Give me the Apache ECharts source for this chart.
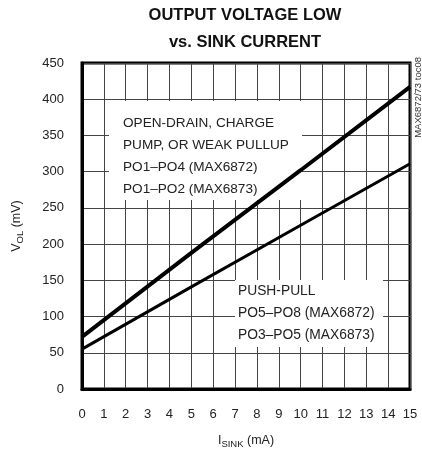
<!DOCTYPE html>
<html>
<head>
<meta charset="utf-8">
<script src="https://cdn.jsdelivr.net/npm/echarts@6/dist/echarts.min.js"></script>
<style>
  html, body { margin: 0; padding: 0; background: #fff; }
  #chart { width: 422px; height: 454px; }
</style>
</head>
<body>
<div id="chart"></div>
<script>
// sink current (mA) vs output voltage low (mV)
const sinkCurrent = [0, 5, 10, 15];
const openDrainVol = [72, 188, 302, 417];
const pushPullVol = [55, 141, 226, 311];

const openDrainNote = ['OPEN-DRAIN, CHARGE', 'PUMP, OR WEAK PULLUP', 'PO1\u2013PO4 (MAX6872)', 'PO1\u2013PO2 (MAX6873)'];
const pushPullNote = ['PUSH-PULL', 'PO5\u2013PO8 (MAX6872)', 'PO3\u2013PO5 (MAX6873)'];

const font = 'Liberation Sans, Arial, sans-serif';
const chart = echarts.init(document.getElementById('chart'));

chart.setOption({
  backgroundColor: '#fff',
  animation: false,
  title: {
    text: 'OUTPUT VOLTAGE LOW\nvs. SINK CURRENT',
    left: 240,
    top: -3,
    textAlign: 'center',
    textStyle: {
      fontFamily: font,
      fontWeight: 'bold',
      fontSize: 16.5,
      lineHeight: 27,
      color: '#111'
    }
  },
  grid: {
    left: 82, right: 12, top: 63, bottom: 63,
    show: true, borderColor: '#000', borderWidth: 3, backgroundColor: 'transparent'
  },
  xAxis: {
    type: 'value',
    min: 0,
    max: 15,
    interval: 1,
    name: 'I{sub|SINK} (mA)',
    nameLocation: 'middle',
    nameGap: 44,
    nameTextStyle: {
      fontFamily: font,
      fontSize: 12.5,
      color: '#222',
      rich: { sub: { fontFamily: font, fontSize: 9.5, verticalAlign: 'bottom', padding: [6, 0, 0, 0] } }
    },
    axisLine: { show: true, onZero: false, lineStyle: { color: '#000', width: 3 } },
    axisTick: { show: false },
    axisLabel: { fontFamily: font, fontSize: 13, color: '#222', margin: 19 },
    splitLine: { show: true, lineStyle: { color: '#444', width: 1 } }
  },
  yAxis: {
    type: 'value',
    min: 0,
    max: 450,
    interval: 50,
    name: 'V{sub|OL} (mV)',
    nameLocation: 'middle',
    nameGap: 57,
    nameTextStyle: {
      fontFamily: font,
      fontSize: 12.5,
      color: '#222',
      rich: { sub: { fontFamily: font, fontSize: 9.5, verticalAlign: 'bottom', padding: [6, 0, 0, 0] } }
    },
    axisLine: { show: true, onZero: false, lineStyle: { color: '#000', width: 3 } },
    axisTick: { show: false },
    axisLabel: { fontFamily: font, fontSize: 13, color: '#222', margin: 18 },
    splitLine: { show: true, lineStyle: { color: '#444', width: 1 } }
  },
  graphic: [
    {
      type: 'rect', z: 1,
      shape: { x: 109, y: 101, width: 193, height: 99 },
      style: { fill: '#fff' }
    },
    {
      type: 'text', z: 1, left: 123, top: 112,
      style: { text: openDrainNote.join('\n'), font: '13.6px ' + font, lineHeight: 22, fill: '#222' }
    },
    {
      type: 'rect', z: 1,
      shape: { x: 235, y: 280, width: 148, height: 67 },
      style: { fill: '#fff' }
    },
    {
      type: 'text', z: 1, left: 238, top: 280,
      style: { text: pushPullNote.join('\n'), font: '13.8px ' + font, lineHeight: 22, fill: '#222' }
    },
    {
      type: 'text', z: 1, left: 413, top: 57, rotation: Math.PI / 2,
      style: { text: 'MAX6872/73 toc08', font: '9.5px ' + font, fill: '#333' }
    }
  ],
  series: [
    {
      type: 'line',
      data: sinkCurrent.map((x, i) => [x, openDrainVol[i]]),
      showSymbol: false,
      lineStyle: { color: '#000', width: 4 },
      z: 3
    },
    {
      type: 'line',
      data: sinkCurrent.map((x, i) => [x, pushPullVol[i]]),
      showSymbol: false,
      lineStyle: { color: '#000', width: 3 },
      z: 3
    }
  ]
});
</script>
</body>
</html>
